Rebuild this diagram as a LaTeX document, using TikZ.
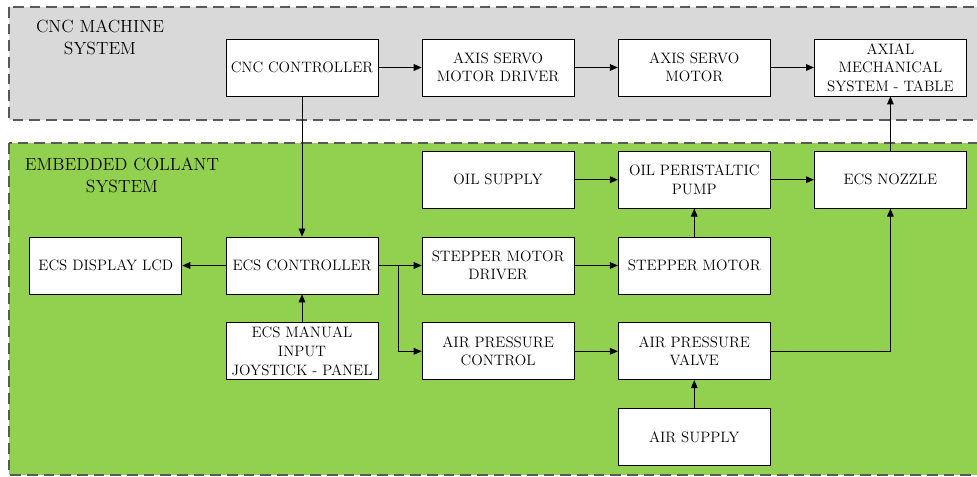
\documentclass[tikz,border=0pt]{standalone}
\usetikzlibrary{positioning, arrows.meta}
\definecolor{cncgray}{HTML}{D9D9D9}
\definecolor{ecsgreen}{HTML}{92D050}

\begin{document}
\begin{tikzpicture}[
        x=0.75pt, y=-0.75pt,
        node distance=21pt and 32.5pt,
        block/.style={
            rectangle,
            draw,
            fill=white,
            line width=0.6pt,
            minimum width=114pt,
            minimum height=42.75pt,
            inner sep=1pt,
            text centered,
            align=center,
            font=\fontsize{11.3}{13.9}\selectfont
        },
        title/.style={
            text centered,
            align=center,
            font=\fontsize{13.2}{16.5}\selectfont
        },
        panel/.style={draw=black!65, dash pattern=on 8pt off 4.5pt, line width=0.9pt},
        line/.style={draw, -{Triangle[length=6pt,width=5pt]}, line width=0.6pt}
    ]
        \useasboundingbox (0,0) rectangle (977,477);
        \clip (0,0) rectangle (977,477);

        % Panels
        \path [panel, fill=cncgray] (9,7) rectangle (995,120);
        \path [panel, fill=ecsgreen] (9,143) rectangle (995,475);
        \node [title] (cnctitle) at (100,37) {CNC MACHINE\\SYSTEM};
        \node [title] (ecstitle) at (122,175) {EMBEDDED COLLANT\\SYSTEM};

        % Nodes
        \node [block] (cncctrl) at (302,67.5) {CNC CONTROLLER};
        \node [block, right=of cncctrl] (servodrv) {AXIS SERVO\\MOTOR DRIVER};
        \node [block, right=of servodrv] (servomot) {AXIS SERVO\\MOTOR};
        \node [block, right=of servomot] (table) {AXIAL\\MECHANICAL\\SYSTEM - TABLE};

        \node [block] (ecsctrl) at (302,265.5) {ECS CONTROLLER};
        \node [block, left=of ecsctrl] (lcd) {ECS DISPLAY LCD};
        \node [block, below=of ecsctrl] (manual) {ECS MANUAL\\INPUT\\JOYSTICK - PANEL};
        \node [block, right=of ecsctrl] (stepdrv) {STEPPER MOTOR\\DRIVER};
        \node [block, above=of stepdrv] (oilsup) {OIL SUPPLY};
        \node [block, below=of stepdrv] (airctrl) {AIR PRESSURE\\CONTROL};
        \node [block, right=of stepdrv] (stepmot) {STEPPER MOTOR};
        \node [block, above=of stepmot] (pump) {OIL PERISTALTIC\\PUMP};
        \node [block, right=of pump] (nozzle) {ECS NOZZLE};
        \node [block, below=of stepmot] (airvalve) {AIR PRESSURE\\VALVE};
        \node [block, below=of airvalve] (airsup) {AIR SUPPLY};

        % Paths
        \path [line] (cncctrl) -- (servodrv);
        \path [line] (servodrv) -- (servomot);
        \path [line] (servomot) -- (table);
        \path [line] (nozzle) -- (table);
        \path [line] (cncctrl) -- (ecsctrl);
        \path [line] (ecsctrl) -- (lcd);
        \path [line] (manual) -- (ecsctrl);
        \path [line] (ecsctrl) -- (stepdrv);
        \path [line] (ecsctrl.east) -- ++(20,0) |- (airctrl);
        \path [line] (oilsup) -- (pump);
        \path [line] (pump) -- (nozzle);
        \path [line] (stepdrv) -- (stepmot);
        \path [line] (stepmot) -- (pump);
        \path [line] (airctrl) -- (airvalve);
        \path [line] (airsup) -- (airvalve);
        \path [line] (airvalve) -| (nozzle);
    \end{tikzpicture}
\end{document}
